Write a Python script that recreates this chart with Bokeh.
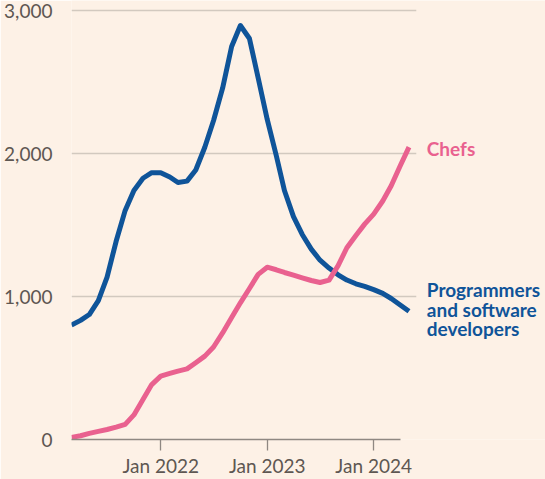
from datetime import datetime
import pandas as pd
from bokeh.plotting import figure
from bokeh.models import Range1d, FixedTicker, DatetimeTickFormatter, NumeralTickFormatter
from bokeh.core.properties import value
from bokeh.embed import file_html
from bokeh.resources import INLINE

# ---- data ----
months = pd.date_range("2021-03-01", periods=39, freq="MS")
programmers = [800, 833, 874, 971, 1136, 1386, 1602, 1742, 1827, 1866,
               1866, 1836, 1797, 1807, 1885, 2044, 2231, 2457, 2748, 2895,
               2804, 2528, 2238, 1986, 1741, 1559, 1434, 1331, 1254, 1199,
               1152, 1115, 1089, 1071, 1048, 1022, 986, 941, 897]
chefs = [15, 26, 43, 57, 70, 87, 106, 172, 280, 384,
         443, 462, 478, 494, 537, 583, 647, 745, 853, 956,
         1056, 1155, 1205, 1187, 1168, 1150, 1131, 1112, 1098, 1115,
         1216, 1341, 1427, 1506, 1576, 1668, 1775, 1915, 2045]
y_ticks = [0, 1000, 2000, 3000]
x_ticks = [datetime(2022, 1, 1), datetime(2023, 1, 1), datetime(2024, 1, 1)]
series_labels = ["Chefs", "Programmers", "and software", "developers"]

# ---- style / layout ----
BG = "#FDF1E6"
BLUE = "#0F5499"
PINK = "#E9618F"
GRID = "#D2C9BF"
AXIS = "#8F8882"
TEXT = "#5E5752"
FONT = "Lato"

x_start = datetime(2021, 3, 1)
x_end = datetime(2025, 8, 12)
axis_end = datetime(2024, 4, 2)
grid_end = datetime(2024, 5, 26)
label_x = datetime(2024, 7, 1)
label_y = [2035, 1051, 911, 778]
label_colors = [PINK, BLUE, BLUE, BLUE]


def ms(d):
    return pd.Timestamp(d).timestamp() * 1000.0


p = figure(width=545, height=479, x_axis_type="datetime",
           x_range=Range1d(x_start, x_end), y_range=Range1d(0, 3070),
           output_backend="svg", toolbar_location=None,
           min_border_left=71, min_border_right=0, min_border_top=0,
           min_border_bottom=40)
p.background_fill_color = BG
p.border_fill_color = BG
p.outline_line_color = None
p.xgrid.visible = False
p.ygrid.visible = False

# gridlines (from tick values)
grid_vals = [v for v in y_ticks if v > 0]
p.segment(x0=[x_start] * len(grid_vals), x1=[grid_end] * len(grid_vals),
          y0=grid_vals, y1=grid_vals, line_color=GRID, line_width=1.3)

p.line(months, programmers, line_color=BLUE, line_width=5,
       line_join="round", line_cap="butt")
p.line(months, chefs, line_color=PINK, line_width=5,
       line_join="round", line_cap="butt")

p.text(x=[label_x] * 4, y=label_y, text=series_labels,
       text_color=label_colors, text_font=value(FONT), text_font_size="19px",
       text_font_style="bold", text_baseline="middle", text_align="left")

# x axis
xa = p.xaxis[0]
xa.ticker = FixedTicker(ticks=[ms(d) for d in x_ticks])
xa.formatter = DatetimeTickFormatter(years="%b %Y", months="%b %Y", days="%b %Y")
xa.bounds = (ms(x_start), ms(axis_end))
xa.axis_line_color = AXIS
xa.axis_line_width = 1.5
xa.major_tick_line_color = AXIS
xa.major_tick_line_width = 1.3
xa.major_tick_out = 11
xa.major_tick_in = 0
xa.minor_tick_line_color = None
xa.major_label_standoff = 3
xa.major_label_text_font = FONT
xa.major_label_text_font_size = "19px"
xa.major_label_text_color = TEXT

# y axis
ya = p.yaxis[0]
ya.ticker = FixedTicker(ticks=y_ticks)
ya.formatter = NumeralTickFormatter(format="0,0")
ya.axis_line_color = None
ya.major_tick_line_color = None
ya.minor_tick_line_color = None
ya.major_label_standoff = 13
ya.major_label_text_font = FONT
ya.major_label_text_font_size = "19px"
ya.major_label_text_color = TEXT

open("out.html", "w").write(file_html(p, INLINE))
